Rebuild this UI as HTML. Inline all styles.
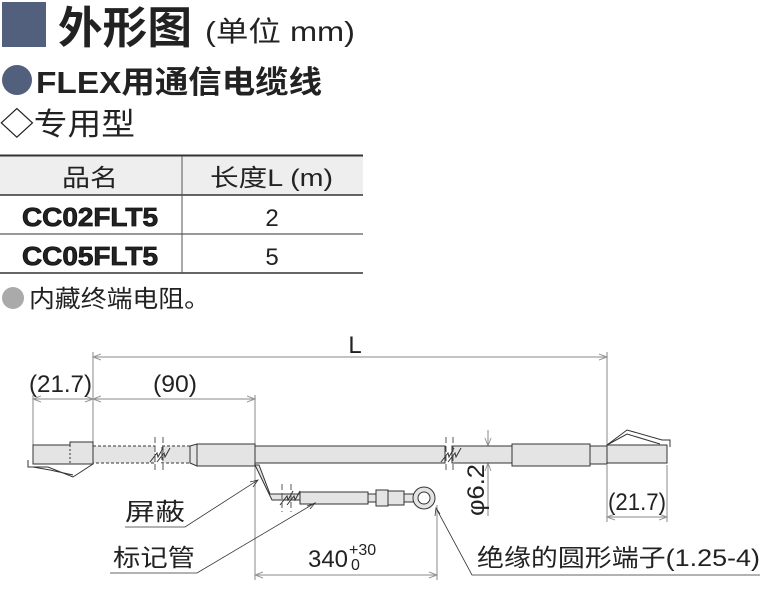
<!DOCTYPE html>
<html><head><meta charset="utf-8"><style>
html,body{margin:0;padding:0;background:#fff;}
svg{display:block;}
text{font-family:"Liberation Sans","Noto Sans CJK SC",sans-serif;fill:#222;}
</style></head><body>
<svg width="762" height="600" viewBox="0 0 762 600" xmlns="http://www.w3.org/2000/svg">
<!-- header -->
<rect x="2" y="2" width="44" height="45" fill="#52607e"/>
<text x="58" y="43" font-size="44" font-weight="bold" fill="#111" textLength="134" lengthAdjust="spacingAndGlyphs">外形图</text>
<text x="205" y="41" font-size="28" textLength="150" lengthAdjust="spacingAndGlyphs">(单位 mm)</text>
<circle cx="17" cy="80" r="15" fill="#52607e"/>
<text x="36" y="93" font-size="31" font-weight="bold" fill="#111" textLength="286" lengthAdjust="spacingAndGlyphs">FLEX用通信电缆线</text>
<text x="0" y="135" font-size="31" fill="#111" textLength="135" lengthAdjust="spacingAndGlyphs">◇专用型</text>
<!-- table -->
<rect x="0" y="156" width="363" height="39" fill="#eeeeee"/>
<line x1="0" y1="155.5" x2="363" y2="155.5" stroke="#333" stroke-width="2"/>
<line x1="0" y1="195" x2="363" y2="195" stroke="#333" stroke-width="1.5"/>
<line x1="0" y1="234" x2="363" y2="234" stroke="#333" stroke-width="1"/>
<line x1="0" y1="273" x2="363" y2="273" stroke="#333" stroke-width="1.5"/>
<line x1="182" y1="156" x2="182" y2="273" stroke="#555" stroke-width="1"/>
<text x="62" y="186" font-size="24" textLength="56" lengthAdjust="spacingAndGlyphs">品名</text>
<text x="210" y="186" font-size="24" textLength="123" lengthAdjust="spacingAndGlyphs">长度L (m)</text>
<text x="22" y="226" font-size="26" font-weight="bold" fill="#111" textLength="136" lengthAdjust="spacingAndGlyphs" stroke="#111" stroke-width="0.8">CC02FLT5</text>
<text x="272" y="226" font-size="24" text-anchor="middle">2</text>
<text x="22" y="265" font-size="26" font-weight="bold" fill="#111" textLength="136" lengthAdjust="spacingAndGlyphs" stroke="#111" stroke-width="0.8">CC05FLT5</text>
<text x="272" y="265" font-size="24" text-anchor="middle">5</text>
<circle cx="13" cy="298" r="11" fill="#aaa"/>
<text x="29" y="307" font-size="24" textLength="181" lengthAdjust="spacingAndGlyphs">内藏终端电阻。</text>

<g stroke="#444" stroke-width="1" fill="none">
<line x1="93" y1="357" x2="607" y2="357" stroke="#888"/>
<line x1="93" y1="352" x2="93" y2="445" stroke="#888"/>
<line x1="607" y1="352" x2="607" y2="445" stroke="#888"/>
<line x1="33" y1="399" x2="255" y2="399" stroke="#888"/>
<line x1="33" y1="395" x2="33" y2="445" stroke="#888"/>
<line x1="255" y1="395" x2="255" y2="580" stroke="#888"/>
<line x1="607" y1="517" x2="667" y2="517" stroke="#888"/>
<line x1="607" y1="465" x2="607" y2="522" stroke="#888"/>
<line x1="667" y1="465" x2="667" y2="522" stroke="#888"/>
<line x1="488" y1="430" x2="488" y2="516" stroke="#888"/>
<line x1="255" y1="575" x2="437" y2="575" stroke="#888"/>
<line x1="437" y1="505" x2="437" y2="580" stroke="#888"/>
</g>
<g fill="none" stroke="#999" stroke-width="1">
<path d="M101 354 L93 357 L101 360 M599 354 L607 357 L599 360"/>
<path d="M41 396 L33 399 L41 402 M85 396 L93 399 L85 402 M101 396 L93 399 L101 402 M247 396 L255 399 L247 402"/>
<path d="M615 514 L607 517 L615 520 M659 514 L667 517 L659 520"/>
<path d="M263 572 L255 575 L263 578 M429 572 L437 575 L429 578"/>
<path d="M485 438 L488 446 L491 438 M485 471 L488 463 L491 471"/>
</g>

<!-- cable -->
<g stroke="#333" stroke-width="1" fill="#e4e4e4">
<rect x="255" y="446" width="190" height="17"/>
<rect x="452" y="446" width="60" height="17"/>
<rect x="93" y="446" width="62" height="17" stroke-dasharray="3,2"/>
<rect x="162" y="446" width="30" height="17" stroke-dasharray="3,2"/>
<rect x="197" y="444" width="58" height="22"/>
<path d="M190 446 L197 444 L197 466 L190 463 Z"/>
<path d="M33 445 L70 445 L70 442 L93 442 L93 464 L33 464 Z"/>
<path d="M28 460 L28 467 L48 467 L73 477 L93 464" fill="none"/>
<path d="M33 467 L50 470 L73 475" fill="none"/>
<rect x="512" y="444" width="78" height="22"/>
<rect x="590" y="446" width="17" height="18"/>
<path d="M607 445 L667 445 L667 463 L607 463 Z"/>
<path d="M607 445 L627 430 L662 440 L670 440 L670 447" fill="none"/>
<path d="M607 445 L627 434 L660 444" fill="none"/>
<path d="M255 465 L272 500 L300 500 L300 494 L270 494 L259 465 Z"/>
<rect x="300" y="492" width="68" height="12"/>
<rect x="368" y="494" width="8" height="8"/>
<rect x="376" y="490" width="12" height="16"/>
<rect x="388" y="491" width="16" height="14"/>
<path d="M404 494 L414 494 L414 502 L404 502 Z"/>
<circle cx="424" cy="498" r="11"/>
<circle cx="424" cy="498" r="6" fill="#fff"/>
</g>
<g stroke="#333" fill="none">
<path d="M70 445 L70 464 M93 445 L93 464" stroke-dasharray="2,2"/>
<path d="M150 462 L157 453 L158 457 L163 448 M157 462 L164 453 L165 457 L170 448"/>
<path d="M441 462 L448 453 L449 457 L454 448 M448 462 L455 453 L456 457 L461 448"/>
<path d="M280 505 L287 496 L288 500 L293 491 M287 505 L294 496 L295 500 L300 491"/>
<path d="M155 437 L155 472 M163 437 L163 472 M446 437 L446 472 M453 437 L453 472 M282 484 L282 512 M291 484 L291 512" stroke="#555" stroke-dasharray="6,3"/>
</g>
<!-- labels & leaders -->
<g stroke="#333" stroke-width="0.8" fill="none">
<path d="M125 527 L185 527 L258 480"/>
<path d="M110 573 L197 573 L315 503"/>
<path d="M760 575 L472 575 L436 508"/>
<path d="M250 482 L258 480 L253 487 M307 506 L315 503 L310 509 M435 516 L436 508 L440 514"/>
</g>
<text x="355" y="353" font-size="24" text-anchor="middle">L</text>
<text x="29" y="392" font-size="24" textLength="63" lengthAdjust="spacingAndGlyphs">(21.7)</text>
<text x="153" y="392" font-size="24" textLength="44" lengthAdjust="spacingAndGlyphs">(90)</text>
<text x="608" y="510" font-size="24" textLength="58" lengthAdjust="spacingAndGlyphs">(21.7)</text>
<text x="308" y="567" font-size="24" textLength="40" lengthAdjust="spacingAndGlyphs">340</text>
<text x="349" y="555" font-size="16">+30</text>
<text x="351" y="570" font-size="16">0</text>
<text transform="translate(484,516) rotate(-90)" font-size="24" textLength="52" lengthAdjust="spacingAndGlyphs">φ6.2</text>
<text x="125" y="520" font-size="24" textLength="60" lengthAdjust="spacingAndGlyphs">屏蔽</text>
<text x="113" y="566" font-size="24" textLength="82" lengthAdjust="spacingAndGlyphs">标记管</text>
<text x="477" y="566" font-size="24" textLength="283" lengthAdjust="spacingAndGlyphs">绝缘的圆形端子(1.25-4)</text>
</svg>
</body></html>
